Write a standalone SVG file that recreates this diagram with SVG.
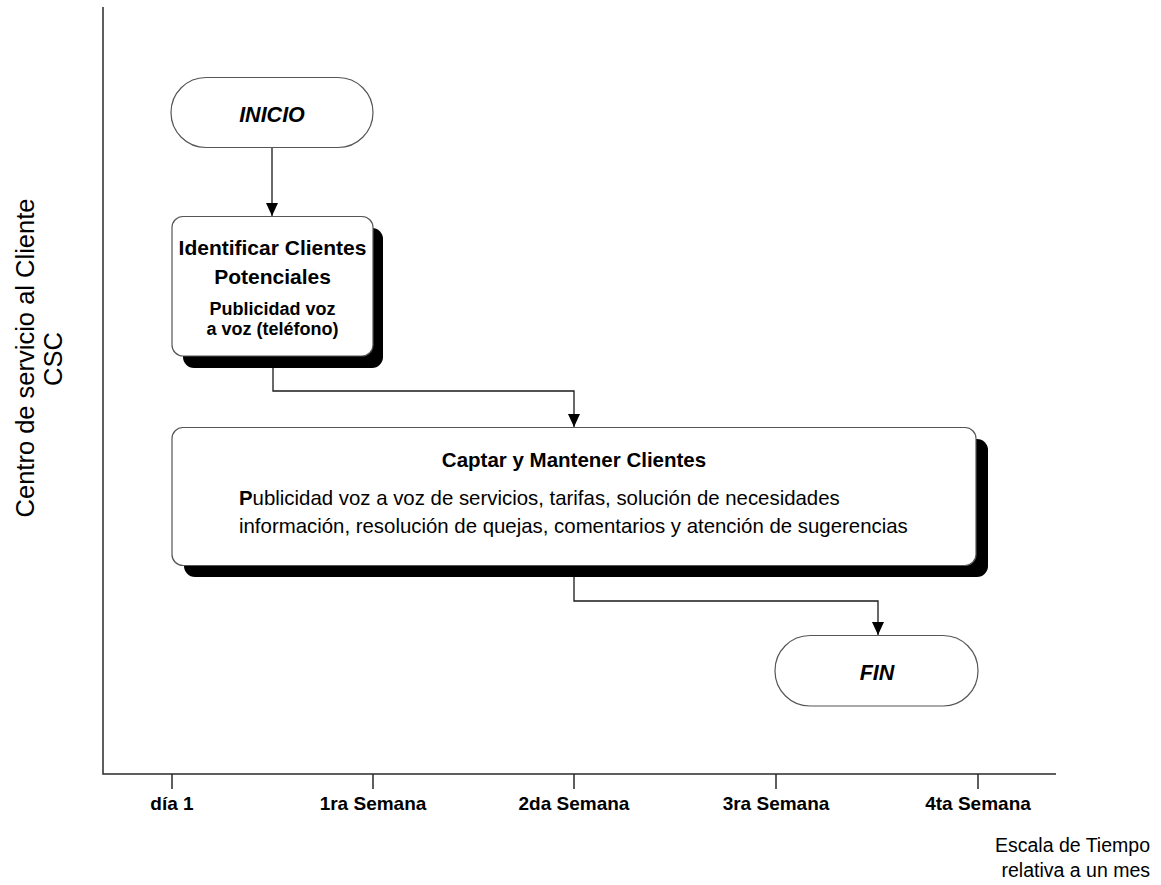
<svg xmlns="http://www.w3.org/2000/svg" width="1161" height="885" viewBox="0 0 1161 885">
  <style>
    .axis { stroke: #2a2a2a; stroke-width: 1.5; fill: none; }
    .conn { stroke: #1a1a1a; stroke-width: 1.3; fill: none; }
    .box { fill: #ffffff; stroke: #555555; stroke-width: 1.2; }
    .shadow { fill: #000000; stroke: none; }
    .txt { font-family: "Liberation Sans", Arial, sans-serif; fill: #000000; }
    .b { font-weight: bold; }
    .bi { font-weight: bold; font-style: italic; }
    .mid { text-anchor: middle; }
  </style>
  <defs>
    <!-- filled arrowhead drawn along +x so orient="auto" points it down the line -->
    <marker id="arrow" viewBox="0 0 13 12" refX="13" refY="6" markerWidth="13" markerHeight="12" markerUnits="userSpaceOnUse" orient="auto">
      <path d="M0,0 L13,6 L0,12 Z" fill="#000000"/>
    </marker>
  </defs>

  <rect x="0" y="0" width="1161" height="885" fill="#ffffff"/>

  <!-- lane label -->
  <g id="lane-label" class="txt" font-size="25.5">
    <text class="mid" transform="translate(34,358) rotate(-90)">Centro de servicio al Cliente</text>
    <text class="mid" transform="translate(62,359) rotate(-90)">CSC</text>
  </g>

  <!-- time axis -->
  <g id="time-axis">
    <path class="axis" d="M103,7 V774 H1056"/>
    <path class="axis" d="M172,774 V789 M373,774 V789 M574,774 V789 M776,774 V789 M978,774 V789"/>
    <g class="txt b mid" font-size="19">
      <text x="172" y="810">día 1</text>
      <text x="373" y="810">1ra Semana</text>
      <text x="574" y="810">2da Semana</text>
      <text x="776" y="810">3ra Semana</text>
      <text x="978" y="810">4ta Semana</text>
    </g>
    <g class="txt" font-size="19.5" text-anchor="end">
      <text x="1150" y="852">Escala de Tiempo</text>
      <text x="1150" y="877">relativa a un mes</text>
    </g>
  </g>

  <!-- connectors -->
  <g id="connectors">
    <path class="conn" d="M272,148 V216" marker-end="url(#arrow)"/>
    <path class="conn" d="M273,368 V391 H574 V427" marker-end="url(#arrow)"/>
    <path class="conn" d="M574,577 V601 H878 V635" marker-end="url(#arrow)"/>
  </g>

  <!-- start terminator -->
  <g id="inicio">
    <rect class="box" x="171" y="77.5" width="202" height="70" rx="35" ry="35"/>
    <text class="txt bi mid" x="272" y="122" font-size="21.5">INICIO</text>
  </g>

  <!-- identify potential clients -->
  <g id="identificar">
    <rect class="shadow" x="183" y="228" width="200" height="140" rx="11" ry="11"/>
    <rect class="box" x="172" y="216.5" width="201" height="139.5" rx="11" ry="11"/>
    <g class="txt b mid">
      <text x="272.5" y="255" font-size="21">Identificar Clientes</text>
      <text x="272.5" y="284" font-size="21">Potenciales</text>
      <text x="272.5" y="315" font-size="18">Publicidad voz</text>
      <text x="272.5" y="335" font-size="18">a voz (teléfono)</text>
    </g>
  </g>

  <!-- capture and retain clients -->
  <g id="captar">
    <rect class="shadow" x="184" y="439" width="804" height="138" rx="11" ry="11"/>
    <rect class="box" x="172" y="427.5" width="804" height="138" rx="11" ry="11"/>
    <text class="txt b mid" x="574" y="467" font-size="20.5">Captar y Mantener Clientes</text>
    <g class="txt" font-size="20.4">
      <text x="239" y="505"><tspan class="b">P</tspan>ublicidad voz a voz de servicios, tarifas, solución de necesidades</text>
      <text x="239" y="533">información, resolución de quejas, comentarios y atención de sugerencias</text>
    </g>
  </g>

  <!-- end terminator -->
  <g id="fin">
    <rect class="box" x="775" y="635.5" width="203" height="70.5" rx="35" ry="35"/>
    <text class="txt bi mid" x="877" y="680" font-size="21.5">FIN</text>
  </g>
</svg>
